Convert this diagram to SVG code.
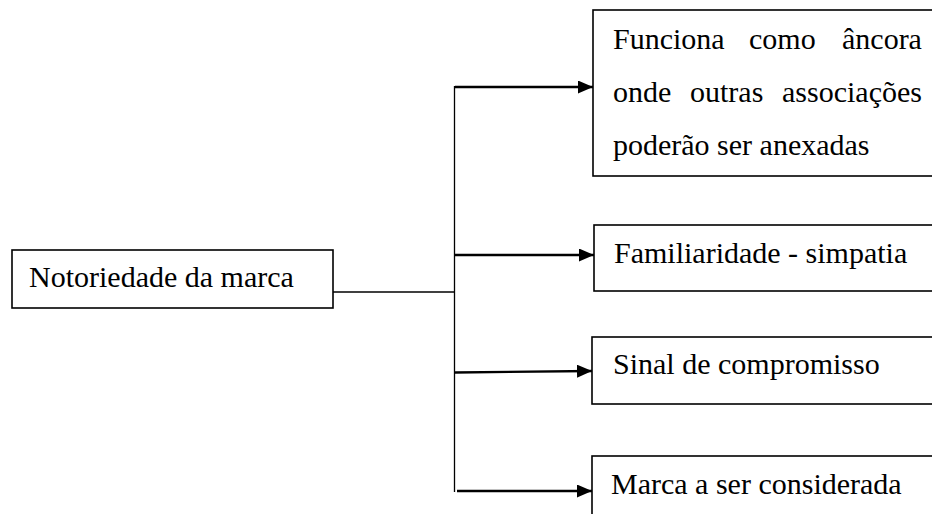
<svg xmlns="http://www.w3.org/2000/svg" width="932" height="514" viewBox="0 0 932 514">
  <style>
    .box { fill: #ffffff; stroke: #000000; stroke-width: 1.6; }
    .lbl { font-family: "Liberation Serif", "Times New Roman", serif; font-size: 30px; fill: #000000; }
    .thin { fill: none; stroke: #000000; stroke-width: 1.3; }
    .arr { fill: none; stroke: #000000; stroke-width: 2.4; marker-end: url(#head); }
  </style>
  <defs>
    <marker id="head" markerUnits="userSpaceOnUse" markerWidth="15" markerHeight="13" refX="15" refY="6.5" orient="auto">
      <path d="M0,0 L15,6.5 L0,13 Z" fill="#000000"/>
    </marker>
  </defs>
  <rect width="932" height="514" fill="#ffffff"/>

  <g id="connectors">
    <line class="thin" x1="333" y1="292" x2="454.5" y2="292"/>
    <line class="thin" x1="454.5" y1="86" x2="454.5" y2="492"/>
    <line class="arr" x1="455" y1="87" x2="593" y2="87"/>
    <line class="arr" x1="455" y1="255" x2="594" y2="255"/>
    <line class="arr" x1="455" y1="372.5" x2="592" y2="371"/>
    <line class="arr" x1="457" y1="491" x2="592" y2="491"/>
  </g>

  <g id="node-notoriedade">
    <rect class="box" x="12" y="250" width="321" height="58"/>
    <text class="lbl" x="29" y="287">Notoriedade da marca</text>
  </g>

  <g id="node-ancora">
    <rect class="box" x="593" y="10" width="350" height="166"/>
    <text class="lbl" y="49"><tspan x="613">Funciona</tspan><tspan x="749">como</tspan><tspan x="842">âncora</tspan></text>
    <text class="lbl" y="102"><tspan x="613">onde</tspan><tspan x="690">outras</tspan><tspan x="782">associações</tspan></text>
    <text class="lbl" x="613" y="155">poderão ser anexadas</text>
  </g>

  <g id="node-familiaridade">
    <rect class="box" x="594" y="225" width="350" height="66"/>
    <text class="lbl" x="614" y="263">Familiaridade - simpatia</text>
  </g>

  <g id="node-sinal">
    <rect class="box" x="592" y="337" width="350" height="67"/>
    <text class="lbl" x="613" y="374">Sinal de compromisso</text>
  </g>

  <g id="node-marca">
    <rect class="box" x="592" y="456" width="350" height="80"/>
    <text class="lbl" x="611" y="494">Marca a ser considerada</text>
  </g>
</svg>
